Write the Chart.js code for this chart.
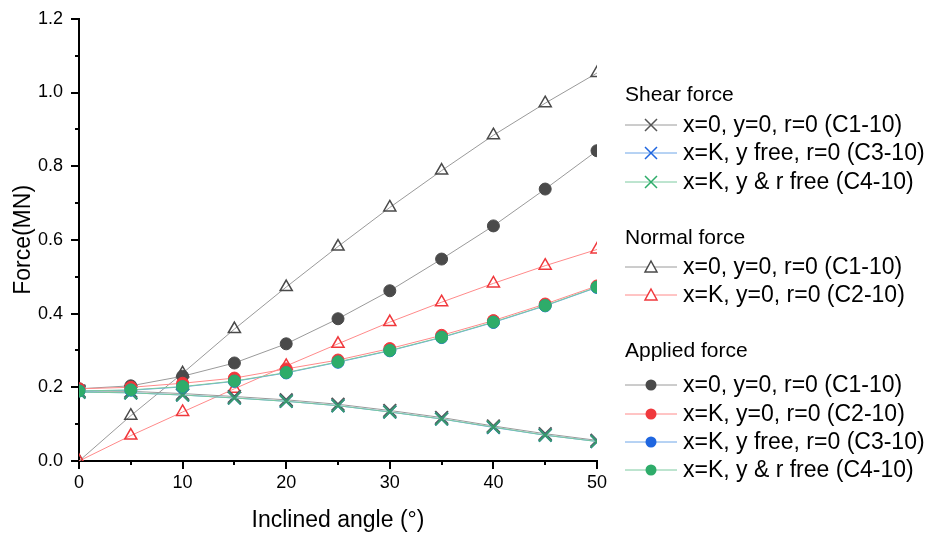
<!DOCTYPE html>
<html>
<head>
<meta charset="utf-8">
<script src="https://cdn.jsdelivr.net/npm/chart.js"></script>
<style>
  html, body { margin: 0; padding: 0; background: #fff; }
  #wrap { width: 929px; height: 536px; }
</style>
</head>
<body>
<div id="wrap"><canvas id="forceChart" width="929" height="536"></canvas></div>
<script>
// inclined angle (deg)
const angles = [0, 5, 10, 15, 20, 25, 30, 35, 40, 45, 50];

// shear force (MN)
const shearC1 = [0.190, 0.189, 0.183, 0.175, 0.166, 0.154, 0.137, 0.118, 0.095, 0.074, 0.056];
const shearC3 = [0.187, 0.185, 0.179, 0.171, 0.162, 0.150, 0.133, 0.114, 0.091, 0.070, 0.053];
const shearC4 = [0.187, 0.185, 0.179, 0.171, 0.162, 0.150, 0.133, 0.114, 0.092, 0.070, 0.053];

// normal force (MN)
const normalC1 = [0.000, 0.123, 0.238, 0.358, 0.472, 0.582, 0.688, 0.788, 0.884, 0.971, 1.053];
const normalC2 = [0.000, 0.069, 0.133, 0.196, 0.258, 0.318, 0.377, 0.431, 0.482, 0.530, 0.574];

// applied force (MN)
const appliedC1 = [0.196, 0.204, 0.230, 0.266, 0.318, 0.386, 0.462, 0.548, 0.638, 0.738, 0.842];
const appliedC2 = [0.196, 0.200, 0.211, 0.225, 0.250, 0.274, 0.305, 0.341, 0.381, 0.426, 0.475];
const appliedC3 = [0.190, 0.192, 0.201, 0.216, 0.239, 0.268, 0.299, 0.335, 0.376, 0.421, 0.471];
const appliedC4 = [0.190, 0.193, 0.202, 0.217, 0.240, 0.269, 0.300, 0.336, 0.377, 0.422, 0.472];

const yTicks = [0, 0.2, 0.4, 0.6, 0.8, 1.0, 1.2];
const xTicks = [0, 10, 20, 30, 40, 50];

const FONT = '"Liberation Sans", Arial, sans-serif';
Chart.defaults.font.family = FONT;
Chart.defaults.color = '#000';

const pts = arr => arr.map((v, i) => ({ x: angles[i], y: v }));

function series(label, data, line, mark, style, order) {
  const filled = style === 'circle';
  return {
    label: label,
    data: pts(data),
    borderColor: line,
    borderWidth: 1,
    pointStyle: style,
    pointRadius: style === 'triangle' ? 7 : (style === 'crossRot' ? 9 : 6),
    pointBorderColor: mark,
    pointBackgroundColor: filled ? mark : 'rgba(0,0,0,0)',
    pointBorderWidth: style === 'circle' ? 1 : (style === 'crossRot' ? 2 : 1.5),
    fill: false,
    tension: 0,
    order: order
  };
}

const GRAY_L = '#9a9a9a', RED_L = '#ff8a8a', BLUE_L = '#6fa6e8', GREEN_L = '#7ccaa0';
const GRAY_M = '#4a4a4a', RED_M = '#f0383c', BLUE_M = '#1f66e0', GREEN_M = '#2eac6a';

const datasets = [
  series('Normal C1', normalC1, GRAY_L, GRAY_M, 'triangle', 9),
  series('Normal C2', normalC2, RED_L, RED_M, 'triangle', 8),
  series('Shear C1', shearC1, GRAY_L, '#555555', 'crossRot', 7),
  series('Shear C3', shearC3, BLUE_L, BLUE_M, 'crossRot', 6),
  series('Shear C4', shearC4, GREEN_L, '#3a9a6a', 'crossRot', 5),
  series('Applied C1', appliedC1, GRAY_L, GRAY_M, 'circle', 4),
  series('Applied C2', appliedC2, RED_L, RED_M, 'circle', 3),
  series('Applied C3', appliedC3, BLUE_L, BLUE_M, 'circle', 2),
  series('Applied C4', appliedC4, GREEN_L, GREEN_M, 'circle', 1)
];

// legend layout
const legendGroups = [
  { title: 'Shear force', y: 95, rows: [
    { text: 'x=0, y=0, r=0 (C1-10)', line: GRAY_L, mark: '#555555', style: 'cross' },
    { text: 'x=K, y free, r=0 (C3-10)', line: BLUE_L, mark: BLUE_M, style: 'cross' },
    { text: 'x=K, y & r free (C4-10)', line: GREEN_L, mark: GREEN_M, style: 'cross' }
  ], rowY: [125, 153, 182] },
  { title: 'Normal force', y: 238, rows: [
    { text: 'x=0, y=0, r=0 (C1-10)', line: GRAY_L, mark: GRAY_M, style: 'triangle' },
    { text: 'x=K, y=0, r=0 (C2-10)', line: RED_L, mark: RED_M, style: 'triangle' }
  ], rowY: [267, 295] },
  { title: 'Applied force', y: 351, rows: [
    { text: 'x=0, y=0, r=0 (C1-10)', line: GRAY_L, mark: GRAY_M, style: 'circle' },
    { text: 'x=K, y=0, r=0 (C2-10)', line: RED_L, mark: RED_M, style: 'circle' },
    { text: 'x=K, y free, r=0 (C3-10)', line: BLUE_L, mark: BLUE_M, style: 'circle' },
    { text: 'x=K, y & r free (C4-10)', line: GREEN_L, mark: GREEN_M, style: 'circle' }
  ], rowY: [385, 414, 442, 470] }
];

function drawMarker(ctx, style, color, x, y) {
  ctx.save();
  ctx.strokeStyle = color;
  ctx.fillStyle = color;
  if (style === 'cross') {
    ctx.lineWidth = 1.5;
    const r = 6;
    ctx.beginPath();
    ctx.moveTo(x - r, y - r); ctx.lineTo(x + r, y + r);
    ctx.moveTo(x + r, y - r); ctx.lineTo(x - r, y + r);
    ctx.stroke();
  } else if (style === 'triangle') {
    ctx.lineWidth = 1.5;
    ctx.fillStyle = '#fff';
    ctx.beginPath();
    ctx.moveTo(x, y - 6); ctx.lineTo(x + 6, y + 5); ctx.lineTo(x - 6, y + 5);
    ctx.closePath();
    ctx.fill();
    ctx.stroke();
  } else {
    ctx.beginPath();
    ctx.arc(x, y, 5.5, 0, Math.PI * 2);
    ctx.fill();
  }
  ctx.restore();
}

const legendPlugin = {
  id: 'groupLegend',
  afterDraw(chart) {
    const ctx = chart.ctx;
    ctx.save();
    ctx.textBaseline = 'middle';
    ctx.textAlign = 'left';
    legendGroups.forEach(g => {
      ctx.fillStyle = '#000';
      ctx.font = '21px ' + FONT;
      ctx.fillText(g.title, 625, g.y);
      ctx.font = '23px ' + FONT;
      g.rows.forEach((r, i) => {
        const y = g.rowY[i];
        ctx.strokeStyle = r.line;
        ctx.lineWidth = 1;
        ctx.beginPath();
        ctx.moveTo(625, y); ctx.lineTo(677, y);
        ctx.stroke();
        drawMarker(ctx, r.style, r.mark, 651, y);
        ctx.fillStyle = '#000';
        ctx.fillText(r.text, 683, y + 1);
      });
    });
    ctx.restore();
  }
};

// outward tick marks: long on labelled ticks, short on the rest
const tickPlugin = {
  id: 'axisTicks',
  afterDraw(chart) {
    const ctx = chart.ctx;
    const xs = chart.scales.x, ys = chart.scales.y;
    ctx.save();
    ctx.strokeStyle = '#000';
    ctx.lineWidth = 2;
    ctx.beginPath();
    xs.ticks.forEach(t => {
      const px = Math.round(xs.getPixelForValue(t.value));
      const len = xTicks.includes(t.value) ? 8 : 4;
      ctx.moveTo(px, xs.top); ctx.lineTo(px, xs.top + len);
    });
    ys.ticks.forEach(t => {
      const py = Math.round(ys.getPixelForValue(t.value));
      const major = yTicks.some(v => Math.abs(v - t.value) < 1e-6);
      const len = major ? 8 : 4;
      ctx.moveTo(ys.right, py); ctx.lineTo(ys.right - len, py);
    });
    ctx.stroke();
    ctx.restore();
  }
};

new Chart(document.getElementById('forceChart'), {
  type: 'line',
  data: { datasets: datasets },
  plugins: [tickPlugin, legendPlugin],
  options: {
    responsive: false,
    animation: false,
    layout: { padding: { top: 15, right: 332, bottom: 0, left: 0 } },
    plugins: {
      legend: { display: false },
      tooltip: { enabled: false }
    },
    scales: {
      x: {
        type: 'linear',
        min: 0,
        max: 50,
        afterFit(scale) { scale.height = 75; },
        border: { display: true, color: '#000', width: 2 },
        grid: { drawOnChartArea: false, color: 'rgba(0,0,0,0)', tickLength: 8 },
        ticks: {
          stepSize: 5,
          autoSkip: false,
          maxRotation: 0,
          padding: 3,
          font: { size: 18 },
          callback: v => (xTicks.includes(v) ? String(v) : '')
        },
        title: {
          display: true,
          text: 'Inclined angle (°)',
          font: { size: 23 },
          padding: { top: 0, bottom: 2 }
        }
      },
      y: {
        min: 0,
        max: 1.2,
        afterFit(scale) { scale.width = 79; },
        border: { display: true, color: '#000', width: 2 },
        grid: { drawOnChartArea: false, color: 'rgba(0,0,0,0)', tickLength: 8 },
        ticks: {
          stepSize: 0.1,
          autoSkip: false,
          padding: 8,
          font: { size: 18 },
          callback: v => (yTicks.some(t => Math.abs(t - v) < 1e-6) ? v.toFixed(1) : '')
        },
        title: {
          display: true,
          text: 'Force(MN)',
          font: { size: 23 },
          padding: { top: 10, bottom: 0 }
        }
      }
    }
  }
});
</script>
</body>
</html>
